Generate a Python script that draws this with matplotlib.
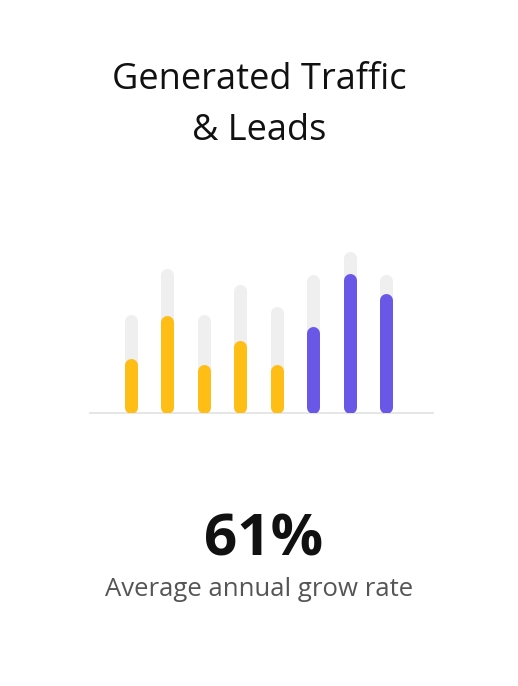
import matplotlib.pyplot as plt

# data (values in "pixel-ish" units, baseline = 0)
categories = ["1", "2", "3", "4", "5", "6", "7", "8"]
target_values = [99, 145, 99, 129, 107, 139, 162, 139]
actual_values = [55, 98, 49, 73, 49, 87, 140, 120]
bar_colors = ["#FFBE16"] * 5 + ["#6958E8"] * 3
headline = "61%"
subtitle = "Average annual grow rate"
title_lines = ["Generated Traffic", "& Leads"]

W, H, DPI = 518, 686, 100
fig = plt.figure(figsize=(W / DPI, H / DPI), dpi=DPI)
fig.patch.set_facecolor("white")

# axes placed in pixels: x from 90 to 433, y from baseline 413 up to 239
left_px, right_px, base_px, top_px = 90, 433, 413, 239
ax = fig.add_axes([left_px / W, (H - base_px) / H,
                   (right_px - left_px) / W, (base_px - top_px) / H])
spacing = 36.57
first_center = 130.5
ax.set_xlim(-(first_center - left_px) / spacing,
            (right_px - first_center) / spacing)
ax.set_ylim(0, base_px - top_px)
ax.axis("off")

bar_px = 13
lw_pt = bar_px * 72 / DPI
r = bar_px / 2

ax.axhline(0, color="#E6E6E6", lw=2 * 72 / DPI, zorder=0, clip_on=False)
for i, (bg, fg, c) in enumerate(zip(target_values, actual_values, bar_colors)):
    ax.plot([i, i], [r, bg - r], color="#EFEFEF", lw=lw_pt,
            solid_capstyle="round", zorder=1)
    ax.plot([i, i], [r, fg - r], color=c, lw=lw_pt,
            solid_capstyle="round", zorder=2)

fam = ["Open Sans", "DejaVu Sans"]
for line, base_y in zip(title_lines, [89, 140]):
    fig.text(259 / W, 1 - base_y / H, line, ha="center", va="baseline",
             fontsize=26, family=fam, color="#111111")
fig.text(264 / W, 1 - 556 / H, headline, ha="center", va="baseline",
         fontsize=42, fontweight="bold", family=fam, color="#111111")
fig.text(259 / W, 1 - 596 / H, subtitle, ha="center", va="baseline",
         fontsize=18.5, family=fam, color="#555555")

fig.savefig("out.png", dpi=DPI, facecolor="white")
